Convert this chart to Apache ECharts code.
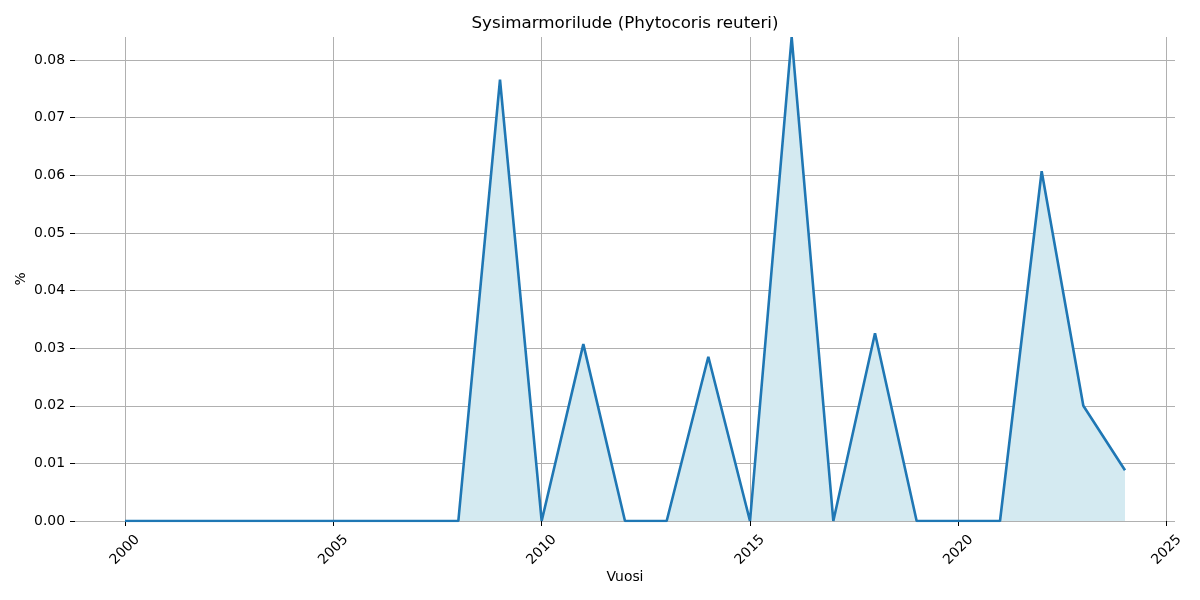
<!DOCTYPE html>
<html>
<head>
<meta charset="utf-8">
<script src="https://cdn.jsdelivr.net/npm/echarts@6/dist/echarts.min.js"></script>
</head>
<body style="margin:0">
<div id="chart" style="width:1200px;height:600px;"></div>
<script>
var years = [2000, 2001, 2002, 2003, 2004, 2005, 2006, 2007, 2008, 2009, 2010, 2011, 2012,
    2013, 2014, 2015, 2016, 2017, 2018, 2019, 2020, 2021, 2022, 2023, 2024];
var values = [0, 0, 0, 0, 0, 0, 0, 0, 0, 0.0766, 0, 0.0307, 0, 0, 0.0285, 0, 0.0840, 0,
    0.0326, 0, 0, 0, 0.0607, 0.0200, 0.0088];
var xTicks = [2000, 2005, 2010, 2015, 2020, 2025];
var yTicks = [0, 0.01, 0.02, 0.03, 0.04, 0.05, 0.06, 0.07, 0.08];

var font = 'DejaVu Sans';
var myChart = echarts.init(document.getElementById('chart'));

var option = {
    animation: false,
    title: {
        text: 'Sysimarmorilude (Phytocoris reuteri)',
        left: 620,
        top: 10,
        textAlign: 'center',
        textStyle: { fontFamily: font, fontSize: 16.7, fontWeight: 'normal', color: '#000' }
    },
    grid: { left: 75, right: 25, top: 37, bottom: 79 },
    xAxis: {
        type: 'value',
        min: 1998.8,
        max: 2025.2,
        name: 'Vuosi',
        nameLocation: 'middle',
        nameGap: 49,
        nameMoveOverlap: false,
        nameTextStyle: { fontFamily: font, fontSize: 13.9, color: '#000' },
        axisLine: { show: false },
        axisTick: { show: true, length: 5, customValues: xTicks, lineStyle: { color: '#000', width: 1 } },
        axisLabel: {
            customValues: xTicks,
            rotate: 45,
            align: 'center',
            verticalAlign: 'middle',
            margin: 29,
            fontFamily: font,
            fontSize: 13.9,
            color: '#000',
            formatter: function (v) { return String(v); }
        },
        splitLine: { show: true, lineStyle: { color: '#b0b0b0', width: 1 } }
    },
    yAxis: {
        type: 'value',
        min: 0,
        max: 0.084,
        name: '%',
        nameLocation: 'middle',
        nameGap: 47,
        nameMoveOverlap: false,
        nameTextStyle: { fontFamily: font, fontSize: 13.9, color: '#000' },
        axisLine: { show: false },
        axisTick: { show: true, length: 5, customValues: yTicks, lineStyle: { color: '#000', width: 1 } },
        axisLabel: {
            customValues: yTicks,
            margin: 10,
            fontFamily: font,
            fontSize: 13.9,
            color: '#000',
            formatter: function (v) { return v.toFixed(2); }
        },
        splitLine: { show: true, lineStyle: { color: '#b0b0b0', width: 1 } }
    },
    series: [
        {
            type: 'line',
            data: years.map(function (y, i) { return [y, values[i]]; }),
            showSymbol: false,
            lineStyle: { color: '#1f77b4', width: 2.6 },
            itemStyle: { color: '#1f77b4' },
            areaStyle: { color: '#d4eaf1', opacity: 1 }
        }
    ]
};

myChart.setOption(option);
</script>
</body>
</html>
